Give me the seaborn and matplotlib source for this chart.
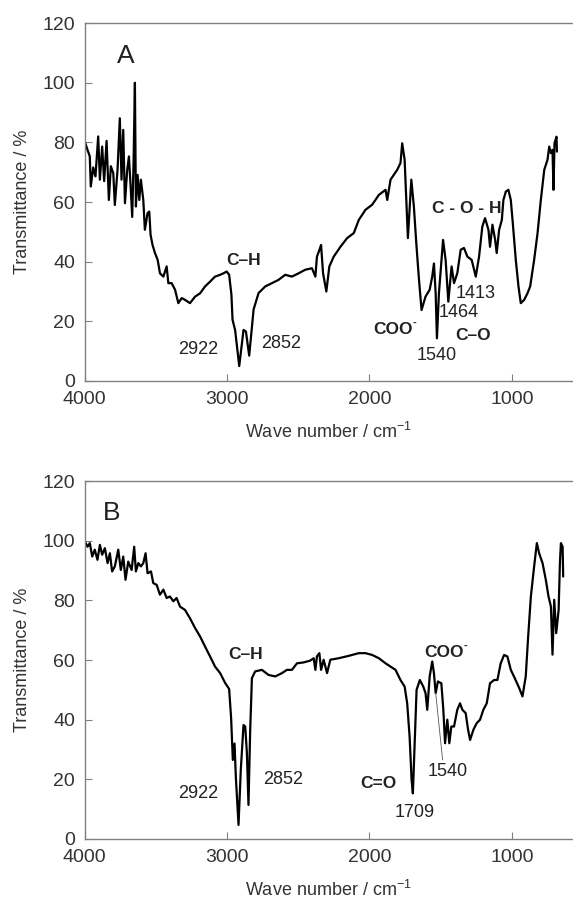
import numpy as np
import pandas as pd
import matplotlib
matplotlib.use("Agg")
import matplotlib.pyplot as plt
import seaborn as sns

# spectrum A (wave number, transmittance)
wn_a = [4000, 3981, 3965, 3958, 3941, 3925, 3906, 3894, 3878, 3864, 3847, 3831, 3817, 3800,
        3789, 3770, 3754, 3742, 3730, 3718, 3702, 3690, 3678, 3667, 3657, 3648, 3641, 3629,
        3617, 3606, 3589, 3578, 3559, 3547, 3538, 3524, 3507, 3488, 3472, 3448, 3425, 3413,
        3390, 3366, 3343, 3319, 3296, 3261, 3225, 3190, 3155, 3120, 3085, 3049, 3026, 3003,
        2986, 2970, 2962, 2944, 2915, 2885, 2868, 2845, 2814, 2779, 2732, 2685, 2639, 2592,
        2545, 2498, 2451, 2404, 2380, 2369, 2352, 2340, 2326, 2303, 2282, 2251, 2204, 2157,
        2110, 2075, 2028, 1981, 1934, 1887, 1875, 1852, 1805, 1782, 1770, 1753, 1730, 1706,
        1688, 1671, 1652, 1634, 1606, 1577, 1559, 1547, 1535, 1526, 1512, 1483, 1465, 1446,
        1423, 1406, 1383, 1359, 1336, 1312, 1282, 1253, 1230, 1207, 1188, 1164, 1153, 1136,
        1117, 1106, 1089, 1070, 1059, 1042, 1024, 1007, 991, 972, 953, 937, 913, 890, 871,
        843, 819, 796, 772, 749, 737, 725, 714, 707, 700, 686, 683]
t_a = [80.3, 77.5, 75.3, 65.2, 71.6, 68.6, 82.0, 67.5, 78.6, 67.0, 80.5, 60.7, 72.0, 69.7,
       59.0, 70.8, 88.1, 67.5, 84.2, 59.6, 70.8, 75.3, 65.2, 55.0, 74.2, 100.0, 58.5, 69.1,
       60.7, 67.5, 60.7, 50.7, 56.3, 56.8, 49.0, 45.6, 42.9, 40.6, 36.1, 35.0, 38.4, 32.8,
       32.8, 30.6, 26.1, 27.8, 27.2, 26.1, 28.3, 29.4, 31.7, 33.3, 35.0, 35.6, 36.1, 36.7,
       35.6, 29.0, 20.5, 17.1, 5.0, 17.1, 16.6, 8.5, 24.0, 29.5, 31.7, 32.8, 33.9, 35.6,
       35.0, 36.1, 37.3, 37.8, 35.0, 41.7, 43.9, 45.6, 36.1, 30.0, 38.4, 41.7, 45.0, 47.9,
       49.6, 54.0, 57.4, 59.1, 62.4, 64.1, 60.7, 67.5, 70.8, 73.1, 79.7, 74.2, 47.9, 67.5,
       58.5, 46.2, 33.9, 23.8, 28.3, 30.6, 35.0, 39.4, 29.4, 14.3, 29.4, 47.3, 40.6, 26.6,
       38.4, 32.8, 36.1, 44.0, 44.6, 41.7, 40.6, 35.0, 41.7, 51.8, 54.6, 50.7, 45.0, 52.4,
       47.3, 42.9, 50.7, 54.0, 60.7, 63.5, 64.1, 60.7, 51.8, 40.6, 31.7, 26.1, 27.2, 29.4, 31.7,
       40.6, 49.6, 60.7, 70.8, 74.2, 78.6, 76.4, 77.5, 64.1, 79.7, 81.9, 76.9]

# spectrum B
wn_b = [4000, 3981, 3965, 3948, 3930, 3911, 3894, 3878, 3859, 3840, 3824, 3808, 3789, 3765,
        3747, 3730, 3714, 3695, 3671, 3653, 3641, 3624, 3606, 3589, 3573, 3559, 3535, 3519,
        3495, 3472, 3448, 3425, 3402, 3378, 3355, 3331, 3296, 3261, 3225, 3190, 3155, 3120,
        3085, 3049, 3014, 2986, 2972, 2960, 2948, 2939, 2920, 2904, 2885, 2873, 2861, 2850,
        2838, 2826, 2803, 2756, 2709, 2662, 2615, 2580, 2545, 2509, 2462, 2416, 2392, 2380,
        2369, 2352, 2340, 2322, 2298, 2275, 2216, 2146, 2075, 2028, 1981, 1934, 1887, 1852,
        1817, 1782, 1753, 1735, 1718, 1704, 1695, 1683, 1669, 1646, 1622, 1606, 1594, 1577,
        1559, 1547, 1535, 1519, 1495, 1481, 1469, 1453, 1439, 1425, 1406, 1383, 1364, 1347,
        1324, 1307, 1293, 1270, 1247, 1223, 1200, 1176, 1153, 1124, 1101, 1078, 1054, 1031,
        1007, 979, 948, 925, 902, 885, 866, 843, 824, 808, 784, 761, 742, 725, 714, 702, 688,
        671, 662, 655, 643, 639]
t_b = [99.8, 98.0, 99.2, 94.7, 97.0, 93.6, 98.6, 95.3, 97.5, 92.5, 95.8, 89.7, 91.4, 97.0,
       90.2, 94.7, 86.9, 93.0, 90.2, 98.0, 89.7, 92.5, 91.4, 92.5, 95.8, 89.1, 89.7, 85.8,
       85.2, 81.9, 83.6, 80.8, 81.3, 79.7, 80.8, 77.9, 76.8, 74.0, 70.7, 67.9, 64.5, 61.2,
       57.8, 55.6, 52.3, 50.3, 40.5, 26.5, 32.0, 20.9, 4.7, 23.2, 38.2, 37.7, 28.7, 11.4,
       36.6, 53.9, 56.2, 56.7, 55.0, 54.5, 55.6, 56.7, 56.7, 58.9, 59.2, 59.8, 60.6, 56.7,
       61.2, 62.3, 56.7, 60.1, 55.6, 60.1, 60.6, 61.4, 62.3, 62.3, 61.7, 60.6, 58.9, 57.8,
       56.7, 53.3, 51.1, 45.5, 34.3, 19.8, 15.3, 31.0, 50.0, 53.3, 51.1, 48.9, 43.3, 54.5,
       59.5, 55.6, 48.9, 52.8, 52.2, 43.3, 32.1, 40.0, 32.1, 37.7, 37.7, 43.3, 45.5, 43.3,
       42.2, 36.6, 33.2, 36.6, 38.8, 40.0, 43.3, 45.5, 52.2, 53.3, 53.3, 58.9, 61.7, 61.2,
       56.7, 53.9, 50.6, 47.8, 54.5, 67.9, 81.3, 91.4, 99.2, 95.8, 92.5, 86.9, 81.3, 77.9,
       61.8, 80.2, 69.0, 76.8, 92.5, 99.2, 98.0, 88.0]

yticks = [0, 20, 40, 60, 80, 100, 120]
xticks = [4000, 3000, 2000, 1000]

sns.set_style("white")
plt.rcParams["font.family"] = ["Liberation Sans", "DejaVu Sans"]
plt.rcParams["mathtext.default"] = "regular"

fig = plt.figure(figsize=(5.73, 9.06), dpi=100)
ax_a = fig.add_axes([0.148, 0.5795, 0.852, 0.395])
ax_b = fig.add_axes([0.148, 0.074, 0.852, 0.395])

spec_a = pd.DataFrame({"wn": wn_a, "T": t_a})
spec_b = pd.DataFrame({"wn": wn_b, "T": t_b})

for ax, df in [(ax_a, spec_a), (ax_b, spec_b)]:
    sns.lineplot(data=df, x="wn", y="T", ax=ax, color="black", linewidth=1.6,
                 estimator=None, sort=False)
    ax.set_xlim(4000, 570)
    ax.set_ylim(0, 120)
    ax.set_xticks(xticks)
    ax.set_yticks(yticks)
    ax.tick_params(bottom=True, left=True, direction="in", length=5, width=0.8,
                   color="#808080", labelsize=14, labelcolor="#333333", pad=7)
    ax.set_xlabel("Wave number / cm$^{-1}$", fontsize=13, color="#333333", labelpad=10)
    ax.set_ylabel("Transmittance / %", fontsize=13, color="#333333", labelpad=8)
    for side in ["left", "top", "bottom"]:
        ax.spines[side].set_color("#808080")
        ax.spines[side].set_linewidth(1.0)
    ax.spines["right"].set_visible(False)

num = dict(fontsize=13, color="#222222", ha="center", va="center")
bold = dict(fontsize=12.5, color="#222222", ha="center", va="center", fontweight="bold")
minus = dict(fontsize=8, color="#222222", ha="left", va="center", fontweight="bold")

# panel A labels
ax_a.text(3715, 109, "A", fontsize=19, color="#222222", ha="center", va="center")
ax_a.text(2887, 40.3, "C–H", **bold)
ax_a.text(3204, 10.4, "2922", **num)
ax_a.text(2620, 12.4, "2852", **num)
ax_a.text(1838, 17.1, "COO", **bold)
ax_a.text(1700, 19.6, "-", **minus)
ax_a.text(1528, 8.4, "1540", **num)
ax_a.text(1275, 15.1, "C–O", **bold)
ax_a.text(1373, 22.8, "1464", **num)
ax_a.text(1254, 29.2, "1413", **num)
ax_a.text(1317, 58, "C - O - H", **bold)

# panel B labels
ax_b.text(3810, 109.4, "B", fontsize=19, color="#222222", ha="center", va="center")
ax_b.text(2873, 61.7, "C–H", **bold)
ax_b.text(3204, 15.1, "2922", **num)
ax_b.text(2606, 20.1, "2852", **num)
ax_b.text(1937, 18.5, "C=O", **bold)
ax_b.text(1683, 9, "1709", **num)
ax_b.text(1479, 62.4, "COO", **bold)
ax_b.text(1341, 64.9, "-", **minus)
ax_b.text(1451, 22.5, "1540", **num)
ax_b.plot([1535, 1486], [49, 26.5], color="#555555", linewidth=0.6)

fig.savefig("out.png", dpi=100)
